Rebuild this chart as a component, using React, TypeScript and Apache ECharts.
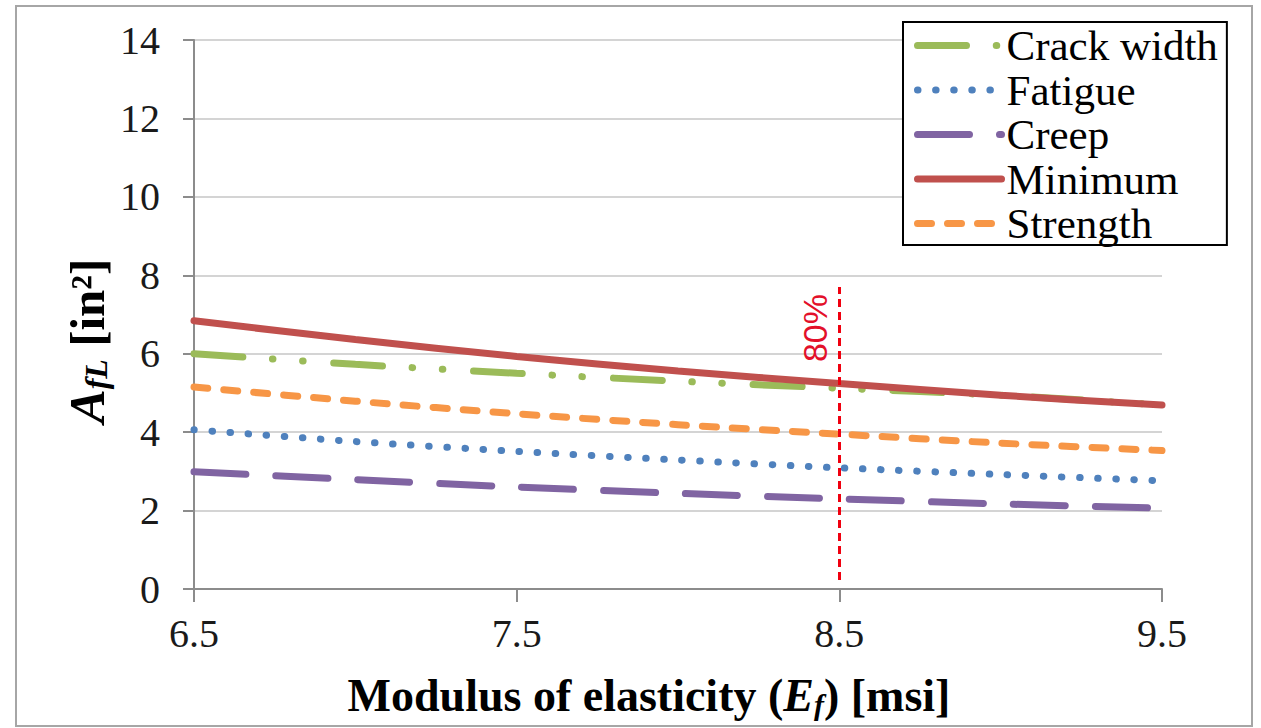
import React, { useEffect, useRef } from "react";
import * as echarts from "echarts";

const E_VALUES = [6.5, 7.0, 7.5, 8.0, 8.5, 9.0, 9.5];
const CRACK_WIDTH = [6.0, 5.73, 5.5, 5.3, 5.12, 4.94, 4.69];
const FATIGUE = [4.06, 3.76, 3.51, 3.29, 3.09, 2.92, 2.76];
const CREEP = [2.99, 2.79, 2.6, 2.44, 2.3, 2.17, 2.06];
const MINIMUM = [6.84, 6.36, 5.93, 5.56, 5.24, 4.94, 4.69];
const STRENGTH = [5.15, 4.79, 4.47, 4.19, 3.95, 3.72, 3.53];
const X_TICKS = [6.5, 7.5, 8.5, 9.5];
const Y_TICKS = [0, 2, 4, 6, 8, 10, 12, 14];
const MARK_X = 8.5;
const MARK_Y = [0.23, 7.7];
const MARK_LABEL = "80%";

const X0 = X_TICKS[0];
const SERIF = "'Liberation Serif', 'Times New Roman', serif";

export default function App() {
  const ref = useRef<HTMLDivElement>(null);
  useEffect(() => {
    if (!ref.current) return;
    const chart = echarts.init(ref.current, null, { renderer: "svg" });
    const pts = (ys: number[]) => E_VALUES.map((x, i) => [x - X0, ys[i]]);
    const mk = (name: string, ys: number[], color: string, type: any, width = 7) => ({
      name,
      type: "line",
      data: pts(ys),
      symbol: "none",
      smooth: 0.3,
      lineStyle: { color, width, type, cap: "round" },
      itemStyle: { color },
    });
    const minSeries: any = mk("Minimum", MINIMUM, "#C0504D", "solid");
    minSeries.markLine = {
      silent: true,
      symbol: "none",
      animation: false,
      lineStyle: { color: "#F0000F", width: 3, type: [8, 5], cap: "butt" },
      label: {
        show: true,
        formatter: MARK_LABEL,
        position: "insideEndTop",
        distance: 7,
        color: "#E3102A",
        fontSize: 34,
        fontFamily: "'Liberation Sans', Arial, sans-serif",
      },
      data: [[{ coord: [MARK_X - X0, MARK_Y[0]] }, { coord: [MARK_X - X0, MARK_Y[1]] }]],
    };
    const option: any = {
      animation: false,
      backgroundColor: "#ffffff",
      grid: { left: 194, right: 99, top: 40, bottom: 139, containLabel: false },
      xAxis: {
        type: "value",
        min: 0,
        max: X_TICKS[X_TICKS.length - 1] - X0,
        interval: 1,
        axisLine: { show: true, lineStyle: { color: "#8C8C8C", width: 2 } },
        axisTick: { show: true, inside: false, length: 13, lineStyle: { color: "#8C8C8C", width: 2 } },
        splitLine: { show: false },
        axisLabel: {
          margin: 24,
          fontSize: 40,
          fontFamily: SERIF,
          color: "#1a1a1a",
          formatter: (v: number) => (v + X0).toFixed(1),
        },
      },
      yAxis: {
        type: "value",
        min: Y_TICKS[0],
        max: Y_TICKS[Y_TICKS.length - 1],
        interval: 2,
        axisLine: { show: true, lineStyle: { color: "#8C8C8C", width: 2 } },
        axisTick: { show: true, inside: false, length: 11, lineStyle: { color: "#8C8C8C", width: 2 } },
        splitLine: { show: true, lineStyle: { color: "#D4D4D4", width: 2 } },
        axisLabel: { margin: 34, fontSize: 40, fontFamily: SERIF, color: "#1a1a1a" },
      },
      legend: {
        orient: "vertical",
        left: 903,
        top: 22,
        padding: [2, 9, 0, 11],
        itemGap: 1.5,
        itemWidth: 84,
        itemHeight: 14,
        backgroundColor: "#ffffff",
        borderColor: "#000000",
        borderWidth: 2,
        borderRadius: 0,
        lineStyle: { width: 7 },
        itemStyle: { opacity: 0 },
        textStyle: { fontSize: 43, fontFamily: SERIF, color: "#000000" },
        data: ["Crack width", "Fatigue", "Creep", "Minimum", "Strength"],
      },
      graphic: [
        {
          type: "rect",
          shape: { x: 16, y: 6, width: 1236, height: 720 },
          style: { fill: "none", stroke: "#A6A6A6", lineWidth: 2 },
          silent: true,
          z: 100,
        },
        {
          type: "text",
          x: 649,
          y: 695,
          style: {
            text: "{b|Modulus of elasticity (}{e|E}{s|f}{b|) [msi]}",
            align: "center",
            verticalAlign: "middle",
            rich: {
              b: { fontSize: 46, fontWeight: "bold", fontFamily: SERIF, fill: "#000" },
              e: { fontSize: 46, fontWeight: "bold", fontStyle: "italic", fontFamily: SERIF, fill: "#000" },
              s: { fontSize: 30, fontWeight: "bold", fontStyle: "italic", fontFamily: SERIF, fill: "#000", padding: [18, 0, 0, 0] },
            },
          },
        },
        {
          type: "text",
          x: 87,
          y: 341,
          rotation: Math.PI / 2,
          style: {
            text: "{e|A}{s|fL}{b| [in²]}",
            align: "center",
            verticalAlign: "middle",
            rich: {
              b: { fontSize: 49, fontWeight: "bold", fontFamily: SERIF, fill: "#000" },
              e: { fontSize: 51, fontWeight: "bold", fontStyle: "italic", fontFamily: SERIF, fill: "#000" },
              s: { fontSize: 32, fontWeight: "bold", fontStyle: "italic", fontFamily: SERIF, fill: "#000", padding: [18, 0, 0, 0] },
            },
          },
        },
      ],
      series: [
        mk("Crack width", CRACK_WIDTH, "#9BBB59", [49, 29.75, 0.5, 29.5, 0.5, 30.75]),
        mk("Fatigue", FATIGUE, "#4F81BD", [0.5, 17.6]),
        mk("Creep", CREEP, "#8064A2", [52, 30]),
        minSeries,
        mk("Strength", STRENGTH, "#F79646", [14, 16]),
      ],
    };
    chart.setOption(option);
    return () => chart.dispose();
  }, []);
  return (
    <div
      ref={ref}
      style={{ position: "fixed", left: 0, top: 0, width: 1261, height: 728 }}
    />
  );
}
